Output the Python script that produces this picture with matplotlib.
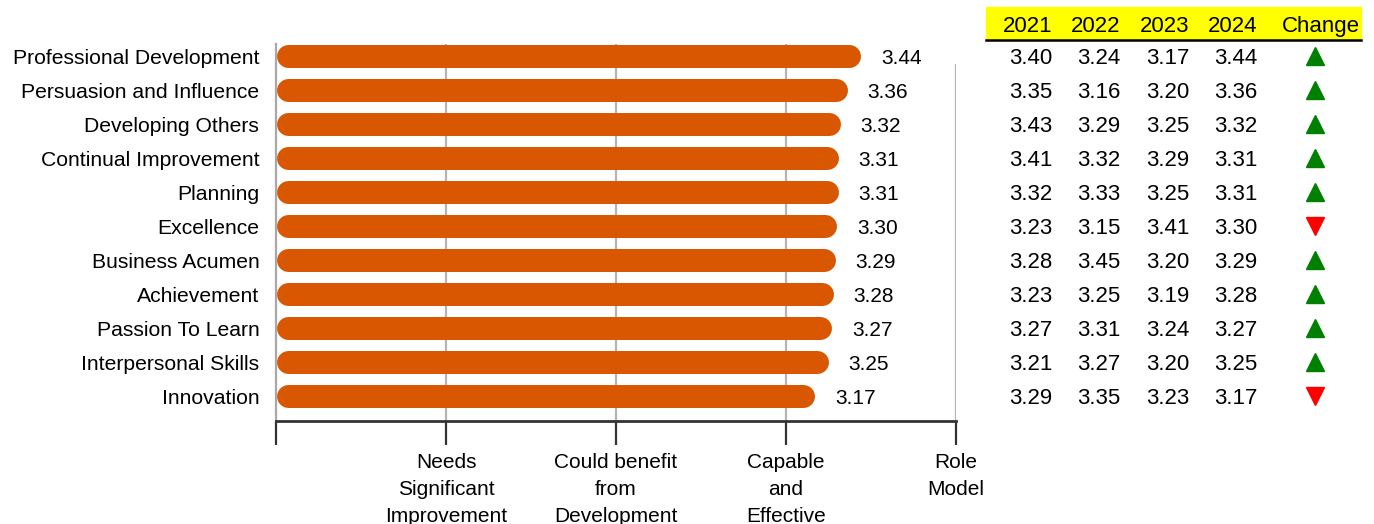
import matplotlib.pyplot as plt
from matplotlib.transforms import blended_transform_factory

plt.rcParams['font.family'] = ['Liberation Sans', 'DejaVu Sans']

skills = ['Professional Development', 'Persuasion and Influence', 'Developing Others',
          'Continual Improvement', 'Planning', 'Excellence', 'Business Acumen',
          'Achievement', 'Passion To Learn', 'Interpersonal Skills', 'Innovation']
y2021 = [3.40, 3.35, 3.43, 3.41, 3.32, 3.23, 3.28, 3.23, 3.27, 3.21, 3.29]
y2022 = [3.24, 3.16, 3.29, 3.32, 3.33, 3.15, 3.45, 3.25, 3.31, 3.27, 3.35]
y2023 = [3.17, 3.20, 3.25, 3.29, 3.25, 3.41, 3.20, 3.19, 3.24, 3.20, 3.23]
y2024 = [3.44, 3.36, 3.32, 3.31, 3.31, 3.30, 3.29, 3.28, 3.27, 3.25, 3.17]
years = ['2021', '2022', '2023', '2024']
scale_labels = ['', 'Needs\nSignificant\nImprovement', 'Could benefit\nfrom\nDevelopment',
                'Capable\nand\nEffective', 'Role\nModel']

W, H = 1374, 524
fig = plt.figure(figsize=(W / 100, H / 100), dpi=100)
ax = fig.add_axes([276 / W, 1 - 421 / H, 680 / W, (421 - 44) / H])

rows = list(range(len(skills)))
ax.set_xlim(0, 4)
ax.set_ylim((421 - 56) / 34, (44 - 56) / 34)

# grid lines
for gx in [1, 2, 3]:
    ax.axvline(gx, color='#b4b4b4', lw=1.6, zorder=1)
ax.axvline(4, ymax=(421 - 65) / (421 - 44), color='#b4b4b4', lw=1.6, zorder=1)

# rounded bars: thick lines with round caps
bar_px = 23
cap = (bar_px / 2) / 170
for r, v in zip(rows, y2024):
    ax.plot([cap + 0.005, v - cap], [r, r], color='#d85700', lw=bar_px * 0.72,
            solid_capstyle='round', zorder=2)
    ax.text(v + 20 / 170, r, f'{v:.2f}', va='center_baseline', ha='left', fontsize=15)

ax.set_yticks(rows)
ax.set_yticklabels(skills, fontsize=15.2)
ax.tick_params(axis='y', length=0, pad=12)

ax.set_xticks([0, 1, 2, 3, 4])
ax.set_xticklabels(scale_labels, fontsize=15, linespacing=1.55)
ax.tick_params(axis='x', length=17, width=1.6, color='#333333', pad=6)

for s in ['top', 'right']:
    ax.spines[s].set_visible(False)
ax.spines['left'].set_color('#a8a8a8')
ax.spines['left'].set_linewidth(1.6)
ax.spines['bottom'].set_color('#333333')
ax.spines['bottom'].set_linewidth(2)

# table on the right
fig.patches.append(plt.Rectangle((986 / W, 1 - 39 / H), 375 / W, 32 / H,
                                 transform=fig.transFigure, color='#ffff00', zorder=0))
fig.lines.append(plt.Line2D([986 / W, 1361 / W], [1 - 40 / H, 1 - 40 / H],
                            transform=fig.transFigure, color='black', lw=1.8))
col_right = [1052, 1120, 1189, 1257]
for yr, cx in zip(years, col_right):
    fig.text(cx / W, 1 - 24 / H, yr, ha='right', va='center_baseline', fontsize=16)
fig.text(1360 / W, 1 - 24 / H, 'Change', ha='right', va='center_baseline', fontsize=16)

tr = blended_transform_factory(fig.transFigure, ax.transData)
for series, cx in zip([y2021, y2022, y2023, y2024], col_right):
    for r, v in zip(rows, series):
        ax.text(cx / W, r, f'{v:.2f}', transform=tr, ha='right', va='center_baseline',
                fontsize=16, clip_on=False)

for r, new, old in zip(rows, y2024, y2023):
    if new >= old:
        ax.plot([1315 / W], [r], marker='^', color='#008000', ms=13.5,
                transform=tr, clip_on=False, ls='none')
    else:
        ax.plot([1315 / W], [r], marker='v', color='#ff0000', ms=13.5,
                transform=tr, clip_on=False, ls='none')

fig.savefig('out.png', dpi=100)
